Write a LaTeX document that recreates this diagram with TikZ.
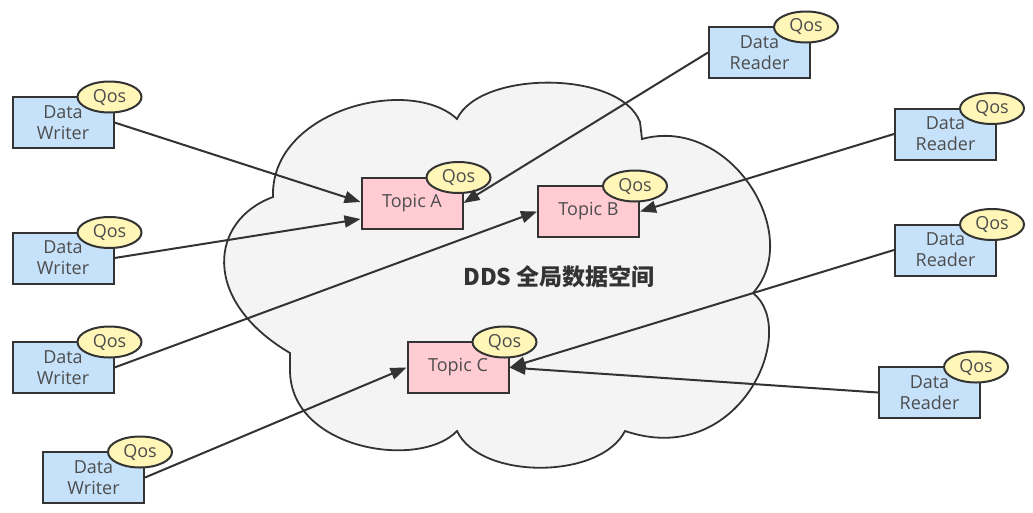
\documentclass[tikz,border=0pt]{standalone}
\usepackage{fontspec}
\setmainfont{Open Sans}
\newfontfamily\cjk{Noto Sans CJK SC}
\usetikzlibrary{arrows.meta,shapes.geometric,calc}
\definecolor{edgecol}{HTML}{333333}
\definecolor{cloudfill}{HTML}{F4F4F4}
\definecolor{wfill}{HTML}{C6E2FA}
\definecolor{pinkfill}{HTML}{FFCCD3}
\definecolor{qosfill}{HTML}{FFF6B8}
\definecolor{txt}{HTML}{4D4D4D}
\tikzset{
  ent/.style={draw=edgecol, line width=2pt, fill=wfill, minimum width=101pt,
    minimum height=51pt, inner sep=0pt, align=center, text=txt,
    font=\fontsize{18}{21}\selectfont},
  topic/.style={ent, fill=pinkfill},
  qos/.style={ellipse, draw=edgecol, line width=2pt, fill=qosfill,
    minimum width=64pt, minimum height=31pt, inner sep=0pt, text=txt,
    font=\fontsize{18}{20}\selectfont},
  conn/.style={draw=edgecol, line width=2pt, -{Triangle[length=16pt,width=12pt]}},
  cloudline/.style={draw=edgecol, line width=1.8pt, fill=cloudfill}
}
\begin{document}
\begin{tikzpicture}[x=1pt,y=-1pt]
\useasboundingbox[fill=white] (0,0) rectangle (1033,512);
% cloud
\path[cloudline] (273,197)
  .. controls (270,110) and (410,75) .. (457,119)
  .. controls (480,70) and (620,70) .. (640,122)
  -- (642,139)
  .. controls (730,115) and (805,235) .. (753,293)
  .. controls (800,330) and (740,470) .. (625,431)
  .. controls (600,480) and (480,480) .. (457,431)
  .. controls (420,470) and (290,450) .. (290,370)
  -- (290,353)
  .. controls (200,300) and (210,220) .. (273,197) -- cycle;
\node[font=\cjk\bfseries\fontsize{23}{26}\selectfont, text=edgecol] (title) at (559,277) {DDS 全局数据空间};
% writers
\node[ent] (w1) at (63,122.5) {Data\\Writer};
\node[ent] (w2) at (63,258) {Data\\Writer};
\node[ent] (w3) at (63,367.5) {Data\\Writer};
\node[ent] (w4) at (93.5,477.5) {Data\\Writer};
% readers
\node[ent] (r1) at (759.5,52.5) {Data\\Reader};
\node[ent] (r2) at (945.5,134) {Data\\Reader};
\node[ent] (r3) at (945.5,250) {Data\\Reader};
\node[ent] (r4) at (929.5,392.5) {Data\\Reader};
% topics
\node[topic] (tA) at (412,203) {Topic A};
\node[topic] (tB) at (588.5,211.5) {Topic B};
\node[topic] (tC) at (458,367.5) {Topic C};
% qos
\foreach \n in {w1,w2,w3,w4,r1,r2,r3,r4,tA,tB,tC}{
  \node[qos] (q\n) at ($(\n.north east)+(-5,1)$) {Qos};
}
% connectors
\draw[conn] (w1.east) -- ([yshift=1pt]tA.west);
\draw[conn] (w2.east) -- ([yshift=-16pt]tA.west);
\draw[conn] (w3.east) -- (tB.west);
\draw[conn] (w4.east) -- (tC.west);
\draw[conn] (r1.west) -- (tA.east);
\draw[conn] (r2.west) -- (tB.east);
\draw[conn] (r3.west) -- (tC.east);
\draw[conn] (r4.west) -- (tC.east);
\end{tikzpicture}
\end{document}
